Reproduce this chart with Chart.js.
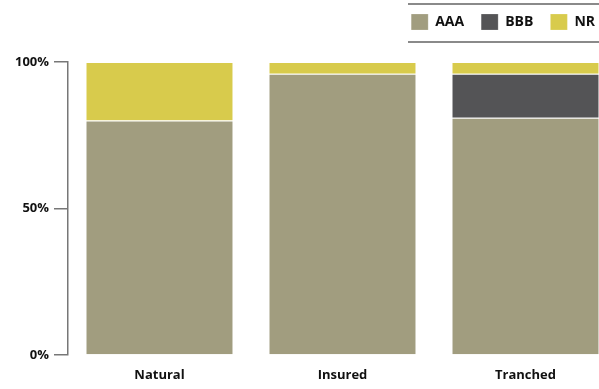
<!DOCTYPE html>
<html>
<head>
<meta charset="utf-8">
<script src="https://cdn.jsdelivr.net/npm/chart.js@4"></script>
<style>
  html, body { margin: 0; padding: 0; background: #fff; overflow: hidden; }
  #wrap { width: 622px; height: 389px; }
</style>
</head>
<body>
<div id="wrap"><canvas id="ratingChart"></canvas></div>
<script>
const categories = ["Natural", "Insured", "Tranched"]
const aaa = [80, 96, 81]
const bbb = [0, 0, 15]
const nr = [20, 4, 4]
const yTicks = [0, 50, 100]

// taller legend block, nudged into place, with rules above and below it
const legendRules = {
  id: "legendRules",
  afterInit(chart) {
    const lg = chart.legend
    const fit = lg.fit
    lg.fit = function () {
      fit.call(this)
      this.height += 17
    }
  },
  afterLayout(chart) {
    chart.legend.right -= 5
    chart.legend.top -= 5
  },
  afterDraw(chart) {
    const ctx = chart.ctx
    ctx.save()
    ctx.strokeStyle = "#8a8a8a"
    ctx.lineWidth = 2
    ctx.beginPath()
    ctx.moveTo(408, 4); ctx.lineTo(chart.width, 4)
    ctx.moveTo(408, 42); ctx.lineTo(chart.width, 42)
    ctx.stroke()
    ctx.restore()
  }
}

const ctx = document.getElementById("ratingChart").getContext("2d")
new Chart(ctx, {
  type: "bar",
  data: {
    labels: categories,
    datasets: [
      { label: "AAA", data: aaa, backgroundColor: "#a19d7f" },
      { label: "BBB", data: bbb, backgroundColor: "#545456" },
      { label: "NR", data: nr, backgroundColor: "#d8cb4c" }
    ]
  },
  options: {
    responsive: true,
    maintainAspectRatio: false,
    animation: false,
    datasets: {
      bar: {
        barPercentage: 0.8,
        categoryPercentage: 1,
        borderColor: "rgba(255,255,255,0.8)",
        borderWidth: { top: 1 },
        borderSkipped: false
      }
    },
    layout: { padding: { left: 0, right: 5, top: 2, bottom: 4 } },
    plugins: {
      legend: {
        position: "top",
        align: "end",
        labels: {
          boxWidth: 17,
          boxHeight: 16,
          padding: 17,
          color: "#111",
          font: { family: "Open Sans", size: 14, weight: "bold" }
        }
      },
      tooltip: { enabled: false }
    },
    scales: {
      x: {
        stacked: true,
        afterFit: axis => { axis.height = 30 },
        grid: { display: false, drawTicks: false },
        border: { display: false },
        ticks: {
          padding: 12,
          color: "#111",
          font: { family: "Open Sans", size: 13, weight: "bold" }
        }
      },
      y: {
        stacked: true,
        min: 0,
        max: 100,
        afterFit: axis => { axis.width = 68 },
        afterBuildTicks: axis => { axis.ticks = yTicks.map(v => ({ value: v })) },
        grid: { drawOnChartArea: false, drawTicks: true, tickLength: 14, color: "#777", lineWidth: 1.5 },
        border: { display: true, color: "#777", width: 1.5 },
        ticks: {
          padding: 5,
          color: "#111",
          font: { family: "Open Sans", size: 13, weight: "bold" },
          callback: v => v + "%"
        }
      }
    }
  },
  plugins: [legendRules]
})
</script>
</body>
</html>
